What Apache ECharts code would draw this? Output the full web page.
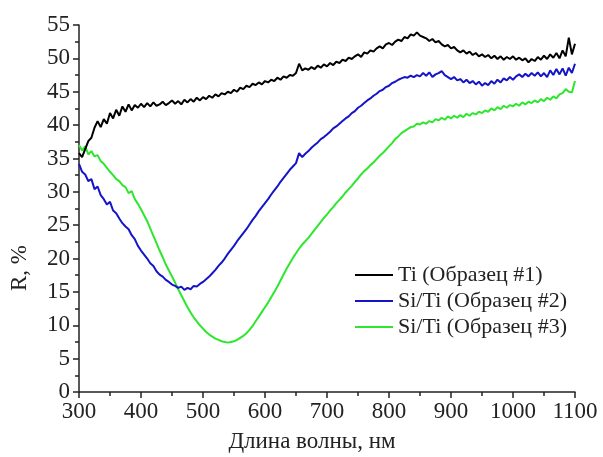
<!DOCTYPE html>
<html>
<head>
<meta charset="utf-8">
<script src="https://cdn.jsdelivr.net/npm/echarts@6/dist/echarts.min.js"></script>
<style>
  html, body { margin: 0; padding: 0; background: #fff; }
  #chart { width: 603px; height: 457px; }
</style>
</head>
<body>
<div id="chart"></div>
<script>
// wavelength grid, nm (step 5)
var wavelengths = [];
for (var w = 300; w <= 1100; w += 5) wavelengths.push(w);

// R, %
var ti1 = [
  35.8,35.2,36.4,37.6,38.1,39.6,40.6,39.7,40.9,40.2,41.8,41.0,42.3,41.4,42.8,42.0,43.1,42.2,43.0,42.6,
  43.2,42.7,43.3,42.8,43.4,42.9,43.1,43.5,43.0,43.3,43.7,43.2,43.6,43.1,43.8,43.4,43.9,43.5,44.1,43.7,
  44.2,43.9,44.4,44.1,44.6,44.3,44.8,44.6,45.0,44.8,45.3,45.0,45.6,45.4,45.9,45.7,46.2,46.0,46.4,46.1,
  46.6,46.4,46.8,46.6,47.1,46.8,47.3,47.1,47.5,47.4,47.8,49.2,48.2,48.5,48.3,48.7,48.4,48.9,48.6,49.1,
  48.8,49.3,49.0,49.5,49.3,49.8,49.6,50.1,49.9,50.3,50.6,50.2,50.9,50.7,51.2,51.0,51.5,51.8,51.5,52.1,
  52.3,52.0,52.5,52.8,52.6,53.2,53.0,53.6,53.4,53.9,53.4,53.2,53.0,52.6,52.9,52.4,52.6,52.1,51.8,52.0,
  51.5,51.7,51.2,50.9,51.2,50.7,51.0,50.5,50.8,50.3,50.6,50.2,50.5,50.0,50.4,49.9,50.3,49.8,50.2,49.9,
  50.3,49.8,50.1,49.7,50.0,49.4,49.9,49.6,50.2,49.8,50.4,49.9,50.6,50.1,50.8,50.0,51.2,50.3,53.1,50.6,
  52.2
];
var siti2 = [
  34.2,33.0,32.6,31.6,31.9,30.4,30.8,29.5,28.9,28.1,28.5,27.2,26.8,26.0,25.3,24.8,24.4,23.5,22.9,21.9,
  21.2,20.6,20.0,19.3,18.9,18.1,17.6,17.3,16.8,16.5,16.1,15.9,15.6,15.8,15.3,15.6,15.4,15.9,15.8,16.2,
  16.5,16.9,17.3,17.8,18.3,18.9,19.4,20.0,20.7,21.3,21.9,22.6,23.2,23.8,24.4,25.1,25.8,26.4,27.1,27.7,
  28.3,28.9,29.6,30.2,30.8,31.5,32.1,32.7,33.3,33.8,34.3,35.8,35.2,35.7,36.1,36.6,37.0,37.4,37.9,38.2,
  38.6,39.0,39.5,39.8,40.2,40.6,41.0,41.3,41.8,42.1,42.6,42.9,43.3,43.7,44.0,44.4,44.7,45.1,45.3,45.7,
  45.9,46.3,46.5,46.8,47.0,47.2,47.1,47.4,47.2,47.5,47.3,47.8,47.4,47.9,47.2,47.6,47.8,48.1,47.5,47.2,
  46.9,47.2,46.7,46.9,46.4,46.8,46.3,46.6,46.1,46.5,45.9,46.3,46.0,46.6,46.2,46.8,46.4,47.0,46.7,47.2,
  46.8,47.3,47.6,47.2,47.7,47.3,47.8,47.4,47.9,47.3,47.8,47.2,48.2,47.5,48.4,47.6,48.5,47.4,48.6,47.8,
  49.2
];
var siti3 = [
  37.0,36.2,36.8,35.6,36.1,35.3,35.5,34.6,34.2,33.6,33.0,32.5,31.9,31.6,31.0,30.7,29.8,30.1,28.9,28.2,
  27.4,26.5,25.6,24.5,23.4,22.3,21.2,20.2,19.1,18.2,17.3,16.4,15.4,14.5,13.6,12.7,11.9,11.2,10.6,10.0,
  9.5,9.0,8.6,8.3,8.0,7.8,7.6,7.5,7.4,7.5,7.6,7.8,8.1,8.4,8.8,9.3,9.9,10.6,11.3,12.0,
  12.7,13.4,14.2,15.0,15.8,16.7,17.6,18.5,19.3,20.1,20.8,21.5,22.1,22.6,23.1,23.7,24.3,24.9,25.5,26.1,
  26.6,27.2,27.7,28.3,28.8,29.3,29.9,30.4,30.9,31.5,32.0,32.6,33.1,33.5,34.0,34.4,34.9,35.4,35.8,36.3,
  36.8,37.3,37.9,38.3,38.8,39.1,39.4,39.7,39.8,40.2,40.1,40.4,40.2,40.6,40.4,40.9,40.7,41.1,40.8,41.3,
  41.0,41.4,41.1,41.5,41.2,41.7,41.4,41.8,41.6,42.0,41.8,42.2,42.0,42.5,42.2,42.7,42.4,42.9,42.6,43.0,
  42.8,43.2,42.9,43.4,43.1,43.5,43.3,43.7,43.4,43.9,43.6,44.1,43.8,44.3,44.0,44.6,44.8,45.4,45.0,44.9,
  46.6
];

var seriesNames = ['Ti (Образец #1)', 'Si/Ti (Образец #2)', 'Si/Ti (Образец #3)'];
var seriesData = [ti1, siti2, siti3];
var seriesColors = ['#000000', '#1414c8', '#2ee62e'];

function pairs(ys) {
  return ys.map(function (y, i) { return [wavelengths[i], y]; });
}

// serif text via rich styles
var serifRich = {
  s: { fontFamily: 'Liberation Serif', fontSize: 23, color: '#222' },
  l: { fontFamily: 'Liberation Serif', fontSize: 22, color: '#222', lineHeight: 22 }
};

var chart = echarts.init(document.getElementById('chart'));

chart.setOption({
  animation: false,
  grid: { left: 79, right: 28, top: 25, bottom: 65 },
  legend: {
    orient: 'vertical',
    left: 350,
    top: 259,
    icon: 'rect',
    itemWidth: 38,
    itemHeight: 2,
    itemGap: 4,
    data: seriesNames,
    formatter: function (name) { return '{l|' + name + '}'; },
    textStyle: { fontFamily: 'Liberation Serif', fontSize: 22, color: '#222', rich: serifRich }
  },
  xAxis: {
    type: 'value',
    min: 300,
    max: 1100,
    interval: 100,
    axisLine: { lineStyle: { color: '#222', width: 1.5 } },
    axisTick: { length: 6, lineStyle: { color: '#222', width: 1.5 } },
    minorTick: { show: true, splitNumber: 2, length: 4, lineStyle: { color: '#222', width: 1.5 } },
    splitLine: { show: false },
    axisLabel: {
      fontFamily: 'Liberation Serif', fontSize: 23, color: '#222', margin: 8,
      rich: serifRich,
      formatter: function (v) { return '{s|' + v + '}'; }
    }
  },
  yAxis: {
    type: 'value',
    min: 0,
    max: 55,
    interval: 5,
    axisLine: { show: true, lineStyle: { color: '#222', width: 1.5 } },
    axisTick: { show: true, length: 6, lineStyle: { color: '#222', width: 1.5 } },
    minorTick: { show: true, splitNumber: 2, length: 4, lineStyle: { color: '#222', width: 1.5 } },
    splitLine: { show: false },
    axisLabel: {
      fontFamily: 'Liberation Serif', fontSize: 23, color: '#222', margin: 9,
      rich: serifRich,
      formatter: function (v) { return '{s|' + v + '}'; }
    }
  },
  graphic: [
    {
      type: 'text',
      x: 8,
      y: 268,
      rotation: Math.PI / 2,
      style: { text: 'R, %', fontFamily: 'Liberation Serif', fontSize: 23, fill: '#222', align: 'center', verticalAlign: 'top' }
    },
    {
      type: 'text',
      x: 312,
      y: 430,
      style: { text: 'Длина волны, нм', fontFamily: 'Liberation Serif', fontSize: 23, fill: '#222', align: 'center', verticalAlign: 'top' }
    }
  ],
  series: seriesNames.map(function (name, i) {
    return {
      name: name,
      type: 'line',
      symbol: 'none',
      data: pairs(seriesData[i]),
      lineStyle: { color: seriesColors[i], width: 2 },
      itemStyle: { color: seriesColors[i] },
      z: 3 - i
    };
  })
});
</script>
</body>
</html>
